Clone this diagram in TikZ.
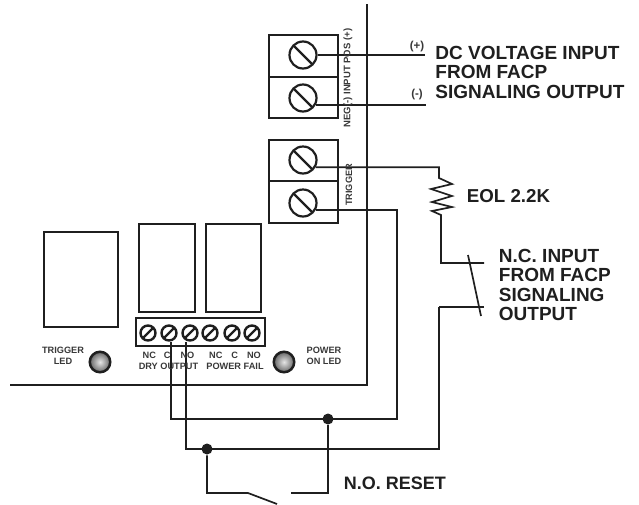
\documentclass[tikz,border=0pt]{standalone}
\usepackage{fontspec}
\setmainfont{Liberation Sans}
\tikzset{every path/.style={line width=1.9pt,color=black!88}}
\tikzset{
  screw/.style={draw,circle,inner sep=0pt,minimum size=#1,line width=2.2pt,
    path picture={\draw[line width=2.2pt] (path picture bounding box.135) -- (path picture bounding box.-45);}},
  stripscrew/.style={draw,circle,inner sep=0pt,minimum size=15pt,line width=2.4pt,
    path picture={\draw[line width=2.4pt] (path picture bounding box.-135) -- (path picture bounding box.45);}},
  led/.style={draw,circle,inner sep=0pt,minimum size=20.5pt,line width=2.5pt,inner color=black!10,outer color=black!60},
  biglabel/.style={font=\bfseries\fontsize{19}{19.5}\selectfont,align=left,anchor=west,text=black!88,inner sep=0pt},
  smalllabel/.style={font=\bfseries\fontsize{9.2}{11}\selectfont,align=center,text=black!78,inner sep=0pt},
  signlabel/.style={font=\bfseries\fontsize{11.5}{13}\selectfont,text=black!78,inner sep=0pt},
  dot/.style={fill=black!88,circle,inner sep=0pt,minimum size=11pt}
}
\begin{document}
\begin{tikzpicture}[x=1pt,y=-1pt]
\useasboundingbox (0,0) rectangle (639,504);
% board outline
\draw (367,4) -- (367,385) -- (10,385);

% relays and strip
\draw (44,232) rectangle (118,327);
\draw (139,224) rectangle (195,312);
\draw (206,224) rectangle (261,312);
\draw (136,318) rectangle (265,346);
\foreach \name/\xpos in {sa/148,sb/169,sc/190,sd/210,se/232,sf/252}
  \node[stripscrew] (\name) at (\xpos,333) {};

% terminal blocks
\draw (269,35) rectangle (338,118);
\draw[line width=2.6pt] (269,77) -- (338,77);
\draw (269,140) rectangle (338,223);
\draw[line width=2.6pt] (269,181) -- (338,181);
\node[screw=27pt] (posscrew) at (303,55) {};
\node[screw=27pt] (negscrew) at (303,98) {};
\node[screw=27pt] (trigascrew) at (303,160) {};
\node[screw=27pt] (trigbscrew) at (303,203) {};

% leds
\node[led] (trigled) at (100,362) {};
\node[led] (powerled) at (284,362) {};

% input wires
\coordinate (posend) at (425,55);
\coordinate (negend) at (426,105);
\draw[line width=1.7pt] (posscrew.east) -- (posend);
\draw[line width=1.7pt] (negscrew.-30) -- (negscrew.-30 -| negend);

% eol and n.c. input
\coordinate (eoltop) at (439,178);
\coordinate (eolbot) at (441,215);
\coordinate (nca) at (441,263);
\coordinate (ncb) at (484,263);
\coordinate (nbl) at (484,307);
\coordinate (nbr) at (439,307);
\coordinate (blade) at (468,255);
\coordinate (bladeend) at (481,316);
\draw[line width=1.7pt] (trigascrew.-30) -- (trigascrew.-30 -| eoltop) -- (eoltop) -- (452,184) -- (431,189) -- (452,196) -- (432,202) -- (452,207) -- (432,211) -- (eolbot) -- (nca) -- (ncb);
\draw[line width=1.7pt] (blade) -- (bladeend);
\draw[line width=1.7pt] (nbl) -- (nbr);

% loop wires
\coordinate (la) at (397,211);
\coordinate (lb) at (397,419);
\coordinate (lc) at (171,419);
\coordinate (ma) at (439,449);
\coordinate (mb) at (186,449);
\node[dot] (dotb) at (328,419) {};
\node[dot] (dota) at (207,449) {};
\draw[line width=1.7pt] (trigbscrew.-30) -- (trigbscrew.-30 -| la) -- (lb) -- (lc) -- (lc |- sb.south);
\draw[line width=1.7pt] (nbr) -- (ma) -- (mb) -- (mb |- sc.south);

% n.o. reset
\coordinate (ra) at (207,493);
\coordinate (rb) at (248,493);
\coordinate (rc) at (277,504);
\coordinate (rd) at (291,493);
\coordinate (re) at (328,493);
\draw[line width=1.7pt] (dota) -- (ra) -- (rb) -- (rc);
\draw[line width=1.7pt] (rd) -- (re) -- (dotb);

% labels
\node[biglabel] (dclabel) at (434.5,72) {DC VOLTAGE INPUT\\FROM FACP\\SIGNALING OUTPUT};
\node[biglabel,font=\bfseries\fontsize{18.7}{19.5}\selectfont] (eollabel) at (466,196) {EOL 2.2K};
\node[biglabel] (nclabel) at (498,285) {N.C. INPUT\\FROM FACP\\SIGNALING\\OUTPUT};
\node[biglabel,font=\bfseries\fontsize{18}{19.5}\selectfont] (nolabel) at (343,483) {N.O. RESET};
\node[signlabel] (posl) at (417,47) {(+)};
\node[signlabel] (negl) at (417,95) {(-)};
\node[smalllabel,rotate=90,font=\bfseries\fontsize{9.5}{11}\selectfont] (inputl) at (348,78) {NEG(-) INPUT POS (+)};
\node[smalllabel,rotate=90] (trigl) at (349,185) {TRIGGER};
\node[smalllabel] (trigledl) at (63,356) {TRIGGER\\LED};
\node[smalllabel] (powerledl) at (324,356) {POWER\\ON LED};
\node[smalllabel] (dryl) at (168.5,361) {NC\hspace{8pt}C\hspace{10pt}NO\\DRY OUTPUT};
\node[smalllabel] (failf) at (235,361) {NC\hspace{9pt}C\hspace{9pt}NO\\POWER FAIL};
\end{tikzpicture}
\end{document}
